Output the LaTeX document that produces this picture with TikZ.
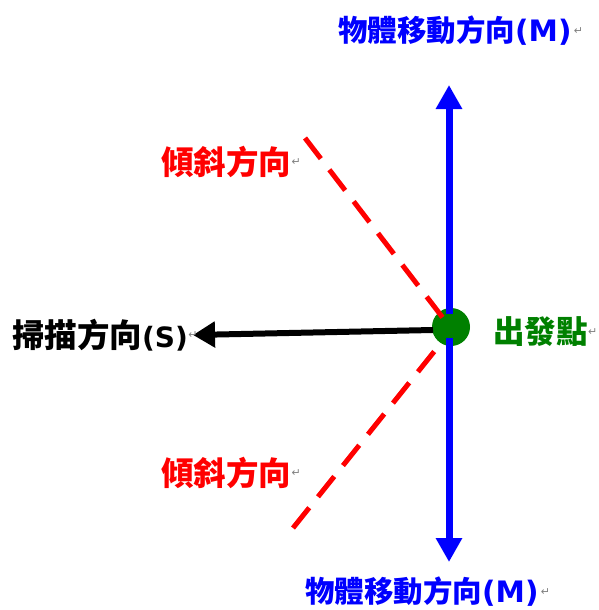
\documentclass[tikz,border=0pt]{standalone}
\usepackage{fontspec}
\usetikzlibrary{arrows.meta}
\newfontfamily\cjk{Noto Sans CJK TC}
\newfontfamily\dvs{DejaVu Sans}
\definecolor{startgreen}{RGB}{0,128,0}
\definecolor{retgray}{RGB}{128,128,128}
\begin{document}
\begin{tikzpicture}[x=1pt,y=-1pt,
  lbl/.style={inner sep=0pt, anchor=west},
  blu/.style={lbl, text=blue, font=\cjk\bfseries\fontsize{29.5}{29.5}\selectfont},
  rd/.style={lbl, text=red, font=\cjk\bfseries\fontsize{32.5}{32.5}\selectfont},
  blk/.style={lbl, text=black, font=\cjk\bfseries\fontsize{32.5}{32.5}\selectfont},
  grn/.style={lbl, text=startgreen, font=\cjk\bfseries\fontsize{31.5}{31.5}\selectfont},
  ret/.style={inner sep=0pt, anchor=west, text=retgray, font=\dvs\fontsize{11}{11}\selectfont},
  movearrow/.style={draw=blue, line width=7pt, -{Triangle[length=24pt,width=25pt]}},
  scanarrow/.style={draw=black, line width=6pt, -{Triangle[length=22pt,width=25pt]}},
  tiltline/.style={draw=red, line width=5pt, dash pattern=on 26pt off 14pt}]
\useasboundingbox (0,0) rectangle (599,610);

% start point
\node[circle, fill=startgreen, minimum size=38pt, inner sep=0pt] (o) at (451,327) {};

% coordinates
\coordinate (upS) at (449,314);
\coordinate (upE) at (449,85);
\coordinate (dnS) at (449,338);
\coordinate (dnE) at (449,562);
\coordinate (scS) at (433,330);
\coordinate (scE) at (193,335);
\coordinate (t1a) at (305,138);
\coordinate (t1b) at (443,318);
\coordinate (t2a) at (293,528);
\coordinate (t2b) at (441,343);

% lines
\draw[scanarrow] (scS) -- (scE);
\draw[movearrow] (upS) -- (upE);
\draw[movearrow] (dnS) -- (dnE);
\draw[tiltline] (t1a) -- (t1b);
\draw[tiltline] (t2a) -- (t2b);

% labels
\node[blu] (mtop) at (338,31) {物體移動方向{\dvs (M)}};
\node[ret] (mtopr) at ([xshift=2pt]mtop.east) {↵};
\node[blu] (mbot) at (305,592) {物體移動方向{\dvs (M)}};
\node[ret] (mbotr) at ([xshift=2pt]mbot.east) {↵};
\node[rd] (tup) at (161,162) {傾斜方向};
\node[ret] (tupr) at ([xshift=0pt]tup.east) {↵};
\node[rd] (tdn) at (161,473) {傾斜方向};
\node[ret] (tdnr) at ([xshift=0pt]tdn.east) {↵};
\node[blk] (scan) at (12,335) {掃描方向{\dvs\fontsize{28}{28}\selectfont (S)}};
\node[ret] (scanr) at ([xshift=0pt]scan.east) {↵};
\node[grn] (start) at (493,332) {出發點};
\node[ret] (startr) at ([xshift=0pt]start.east) {↵};
\end{tikzpicture}
\end{document}
